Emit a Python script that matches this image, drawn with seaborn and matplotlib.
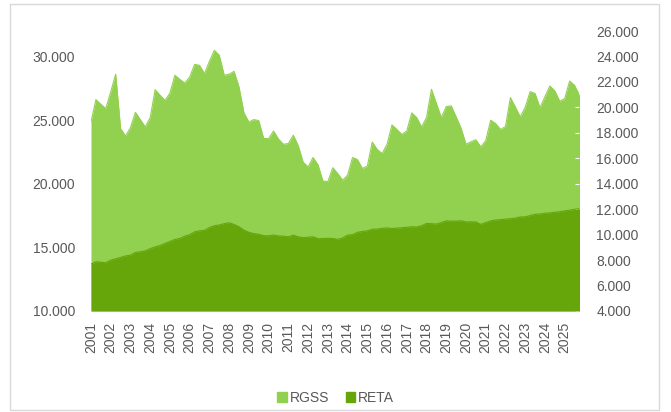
import matplotlib
matplotlib.use("Agg")
import matplotlib.pyplot as plt
import matplotlib.patches as patches
import seaborn as sns
import pandas as pd

# -----------------------------------
# DATA (quarterly, 2001 Q1 - 2025 Q4)
# -----------------------------------

years = list(range(2001, 2026))

rgss = [
    24850, 26610, 26240, 25900, 27220, 28600, 24330, 23750, 24410, 25610,
    25040, 24460, 25200, 27390, 26950, 26550, 27130, 28520, 28200, 27910,
    28380, 29380, 29300, 28650, 29620, 30480, 30090, 28520, 28600, 28830,
    27600, 25560, 24850, 25040, 24960, 23550, 23550, 24140, 23510, 23100,
    23160, 23810, 22990, 21690, 21320, 22060, 21490, 20220, 20160, 21260,
    20800, 20280, 20670, 22060, 21900, 21200, 21380, 23280, 22690, 22370,
    23100, 24620, 24260, 23870, 24150, 25570, 25200, 24460, 25200, 27420,
    26300, 25200, 26060, 26120, 25250, 24360, 23100, 23300, 23460, 22890,
    23390, 24990, 24730, 24260, 24490, 26770, 26030, 25250, 26010, 27240,
    27080, 25970, 26850, 27680, 27290, 26480, 26690, 28070, 27730, 26950,
]

reta = [
    7690, 7870, 7830, 7790, 8000, 8100, 8210, 8330, 8390, 8600,
    8650, 8730, 8900, 9040, 9150, 9310, 9470, 9620, 9700, 9880,
    10000, 10220, 10300, 10330, 10560, 10700, 10760, 10860, 10930, 10800,
    10620, 10350, 10180, 10080, 10030, 9920, 9910, 9970, 9900, 9880,
    9830, 9960, 9830, 9760, 9800, 9830, 9680, 9700, 9710, 9700,
    9630, 9740, 9960, 10000, 10180, 10250, 10300, 10420, 10440, 10500,
    10530, 10480, 10520, 10540, 10580, 10620, 10600, 10700, 10880, 10860,
    10830, 10950, 11080, 11060, 11060, 11090, 11000, 11010, 11000, 10800,
    10950, 11080, 11150, 11180, 11220, 11250, 11300, 11390, 11400, 11500,
    11600, 11620, 11680, 11710, 11760, 11800, 11870, 11920, 11990, 12050,
]

df = pd.DataFrame({"q": range(len(rgss)), "RGSS": rgss, "RETA": reta})

light_green = "#92D050"
dark_green = "#66A60B"
text_color = "#595959"

# -----------------------------------
# STYLE
# -----------------------------------

sns.set_style("white")
plt.rcParams["font.family"] = ["Liberation Sans", "DejaVu Sans"]
plt.rcParams["font.size"] = 10

fig = plt.figure(figsize=(6.71, 4.12), dpi=100)
ax = fig.add_axes([91 / 671, 1 - 311 / 412, (579.5 - 91) / 671, 280 / 412])
ax2 = ax.twinx()

# chart border
fig.patches.append(patches.Rectangle(
    (10 / 671, 2 / 412), 649 / 671, 406 / 412,
    transform=fig.transFigure, fill=False, edgecolor="#D9D9D9", linewidth=1
))

# -----------------------------------
# AREAS
# -----------------------------------

ax.fill_between(df["q"], 10000, df["RGSS"], color=light_green, linewidth=0)
sns.lineplot(data=df, x="q", y="RGSS", ax=ax, color=light_green,
             linewidth=0.8, legend=False)

ax2.fill_between(df["q"], 4000, df["RETA"], color=dark_green, linewidth=0)
sns.lineplot(data=df, x="q", y="RETA", ax=ax2, color=dark_green,
             linewidth=0.8, legend=False)

# -----------------------------------
# AXES
# -----------------------------------

def fmt(v):
    return f"{int(v):,}".replace(",", ".")

ax.set_xlim(0, len(rgss) - 1)
ax.set_ylim(10000, 32000)
ax2.set_ylim(4000, 26000)

left_ticks = list(range(10000, 30001, 5000))
ax.set_yticks(left_ticks)
ax.set_yticklabels([fmt(v) for v in left_ticks])

right_ticks = list(range(4000, 26001, 2000))
ax2.set_yticks(right_ticks)
ax2.set_yticklabels([fmt(v) for v in right_ticks])

ax.set_xticks([i * 4 for i in range(len(years))])
ax.set_xticklabels([str(y) for y in years], rotation=90)

ax.set_xlabel("")
ax.set_ylabel("")
ax2.set_ylabel("")

ax.tick_params(axis="y", length=0, pad=11.5, labelcolor=text_color, labelsize=10)
ax.tick_params(axis="x", length=0, pad=8, labelcolor=text_color, labelsize=10)
ax2.tick_params(axis="y", direction="in", length=3, color="white", pad=12,
                labelcolor=text_color, labelsize=10)

for a in (ax, ax2):
    for s in a.spines.values():
        s.set_visible(False)

# -----------------------------------
# LEGEND
# -----------------------------------

handles = [
    patches.Patch(color=light_green, label="RGSS"),
    patches.Patch(color=dark_green, label="RETA"),
]
fig.legend(handles=handles, loc="center", bbox_to_anchor=(0.5, 1 - 398 / 412),
           ncol=2, frameon=False, handlelength=0.7, handleheight=0.7,
           handletextpad=0.2, columnspacing=1.2, labelcolor=text_color, fontsize=10)

plt.savefig("out.png", dpi=100)
